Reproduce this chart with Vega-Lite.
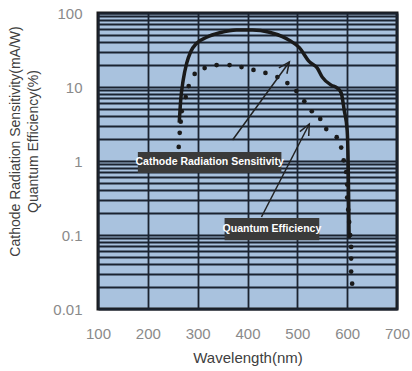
{
  "$schema": "https://vega.github.io/schema/vega-lite/v6.json",
  "autosize": "none",
  "width": 299,
  "height": 296,
  "padding": {"left": 98, "top": 13, "right": 15, "bottom": 62},
  "background": "white",
  "config": {
    "view": {"fill": "#a9c2de", "stroke": "#1a1a1a", "strokeWidth": 3},
    "axis": {
      "labelFont": "Liberation Sans",
      "labelFontSize": 15,
      "labelColor": "#8a8a8a",
      "titleFont": "Liberation Sans",
      "titleFontSize": 15,
      "titleFontWeight": "normal",
      "titleColor": "#404040",
      "gridColor": "#1b2330",
      "gridWidth": 1.8,
      "gridOpacity": 1,
      "domain": false,
      "ticks": false
    }
  },
  "datasets": {
    "cathode": [
      {"wavelength": 263, "value": 3.3},
      {"wavelength": 266, "value": 6.7},
      {"wavelength": 271, "value": 12.4},
      {"wavelength": 278, "value": 21},
      {"wavelength": 286, "value": 30},
      {"wavelength": 298, "value": 39},
      {"wavelength": 318, "value": 47},
      {"wavelength": 344, "value": 54},
      {"wavelength": 378, "value": 59},
      {"wavelength": 410, "value": 59},
      {"wavelength": 444, "value": 55},
      {"wavelength": 470, "value": 48},
      {"wavelength": 486, "value": 42},
      {"wavelength": 504, "value": 34},
      {"wavelength": 524, "value": 22},
      {"wavelength": 540, "value": 18},
      {"wavelength": 550, "value": 13.6},
      {"wavelength": 568, "value": 10.6},
      {"wavelength": 580, "value": 9.7},
      {"wavelength": 588, "value": 8.3},
      {"wavelength": 594, "value": 4.9},
      {"wavelength": 600, "value": 2.6},
      {"wavelength": 602, "value": 0.93},
      {"wavelength": 603, "value": 0.3},
      {"wavelength": 604, "value": 0.09}
    ],
    "qe": [
      {"wavelength": 262, "value": 1.55},
      {"wavelength": 264, "value": 2.4},
      {"wavelength": 266, "value": 3.4},
      {"wavelength": 268, "value": 4.7},
      {"wavelength": 276, "value": 7.3},
      {"wavelength": 282, "value": 10.3},
      {"wavelength": 294, "value": 15},
      {"wavelength": 314, "value": 18},
      {"wavelength": 338, "value": 19.8},
      {"wavelength": 364, "value": 19.8},
      {"wavelength": 388, "value": 18.6},
      {"wavelength": 412, "value": 17},
      {"wavelength": 436, "value": 15.5},
      {"wavelength": 460, "value": 13.6},
      {"wavelength": 480, "value": 11.3},
      {"wavelength": 498, "value": 8.8},
      {"wavelength": 514, "value": 6.4},
      {"wavelength": 529, "value": 4.7},
      {"wavelength": 546, "value": 3.7},
      {"wavelength": 558, "value": 2.7},
      {"wavelength": 579, "value": 2.1},
      {"wavelength": 588, "value": 1.52},
      {"wavelength": 593, "value": 1.02},
      {"wavelength": 598, "value": 0.71},
      {"wavelength": 600, "value": 0.48},
      {"wavelength": 600, "value": 0.32},
      {"wavelength": 602, "value": 0.22},
      {"wavelength": 604, "value": 0.15},
      {"wavelength": 606, "value": 0.1},
      {"wavelength": 608, "value": 0.069},
      {"wavelength": 608, "value": 0.048},
      {"wavelength": 608, "value": 0.032},
      {"wavelength": 610, "value": 0.022}
    ],
    "labels": [
      {"label": "Cathode Radiation Sensitivity", "x1": 180, "x2": 468, "y1": 0.69, "y2": 1.32, "tx": 324, "ty": 0.955},
      {"label": "Quantum Efficiency", "x1": 354, "x2": 544, "y1": 0.085, "y2": 0.17, "tx": 449, "ty": 0.12}
    ],
    "arrows": [
      {"id": "a1", "x1": 370, "y1": 1.92, "x2": 484, "y2": 21.8},
      {"id": "a2", "x1": 428, "y1": 0.175, "x2": 524, "y2": 3.16}
    ]
  },
  "encoding": {
    "x": {
      "type": "quantitative",
      "scale": {"domain": [100, 700], "nice": false, "zero": false},
      "axis": {
        "title": "Wavelength(nm)",
        "values": [100, 200, 300, 400, 500, 600, 700],
        "labelPadding": 17,
        "labelFlush": false,
        "labelOverlap": false,
        "titlePadding": 9
      }
    },
    "y": {
      "type": "quantitative",
      "scale": {"type": "log", "domain": [0.01, 100], "nice": false},
      "axis": {
        "title": ["Cathode Radiation Sensitivity(mA/W)", "Quantum Efficiency(%)"],
        "titleFontSize": 14,
        "titleLineHeight": 18,
        "titleAngle": -90,
        "titleBaseline": "top",
        "titleX": -90,
        "titleY": 128,
        "values": [0.01, 0.02, 0.03, 0.04, 0.05, 0.06, 0.07, 0.08, 0.09, 0.1, 0.2, 0.3, 0.4, 0.5, 0.6, 0.7, 0.8, 0.9, 1, 2, 3, 4, 5, 6, 7, 8, 9, 10, 20, 30, 40, 50, 60, 70, 80, 90, 100],
        "labelExpr": "abs(log(datum.value)/LN10 - round(log(datum.value)/LN10)) < 0.001 ? format(datum.value, '~g') : ''",
        "labelOverlap": false,
        "labelFlush": false,
        "labelPadding": 16
      }
    }
  },
  "layer": [
    {
      "data": {"name": "cathode"},
      "mark": {"type": "line", "color": "#1a1a1a", "strokeWidth": 3.5, "interpolate": "monotone"},
      "encoding": {
        "x": {"field": "wavelength", "type": "quantitative"},
        "y": {"field": "value", "type": "quantitative"}
      }
    },
    {
      "data": {"name": "qe"},
      "mark": {"type": "point", "filled": true, "color": "#1a1a1a", "size": 22, "opacity": 1},
      "encoding": {
        "x": {"field": "wavelength", "type": "quantitative"},
        "y": {"field": "value", "type": "quantitative"}
      }
    },
    {
      "data": {"name": "arrows"},
      "mark": {"type": "rule", "color": "#222222", "strokeWidth": 1.5},
      "encoding": {
        "x": {"field": "x1", "type": "quantitative"},
        "x2": {"field": "x2"},
        "y": {"field": "y1", "type": "quantitative"},
        "y2": {"field": "y2"}
      }
    },
    {
      "data": {"name": "arrows"},
      "transform": [{"filter": "datum.id === 'a1'"}],
      "mark": {"type": "point", "shape": "M -0.45 1 L 0 0 L 0.45 1", "filled": false, "stroke": "#222222", "strokeWidth": 1.5, "size": 484, "angle": 36, "opacity": 1},
      "encoding": {
        "x": {"field": "x2", "type": "quantitative"},
        "y": {"field": "y2", "type": "quantitative"}
      }
    },
    {
      "data": {"name": "arrows"},
      "transform": [{"filter": "datum.id === 'a2'"}],
      "mark": {"type": "point", "shape": "M -0.45 1 L 0 0 L 0.45 1", "filled": false, "stroke": "#222222", "strokeWidth": 1.5, "size": 484, "angle": 27, "opacity": 1},
      "encoding": {
        "x": {"field": "x2", "type": "quantitative"},
        "y": {"field": "y2", "type": "quantitative"}
      }
    },
    {
      "data": {"name": "labels"},
      "mark": {"type": "rect", "color": "#3a3a3a"},
      "encoding": {
        "x": {"field": "x1", "type": "quantitative"},
        "x2": {"field": "x2"},
        "y": {"field": "y1", "type": "quantitative"},
        "y2": {"field": "y2"}
      }
    },
    {
      "data": {"name": "labels"},
      "mark": {"type": "text", "color": "white", "font": "Liberation Sans", "fontWeight": "bold", "fontSize": 10.5, "align": "center", "baseline": "middle"},
      "encoding": {
        "x": {"field": "tx", "type": "quantitative"},
        "y": {"field": "ty", "type": "quantitative"},
        "text": {"field": "label"}
      }
    }
  ]
}
